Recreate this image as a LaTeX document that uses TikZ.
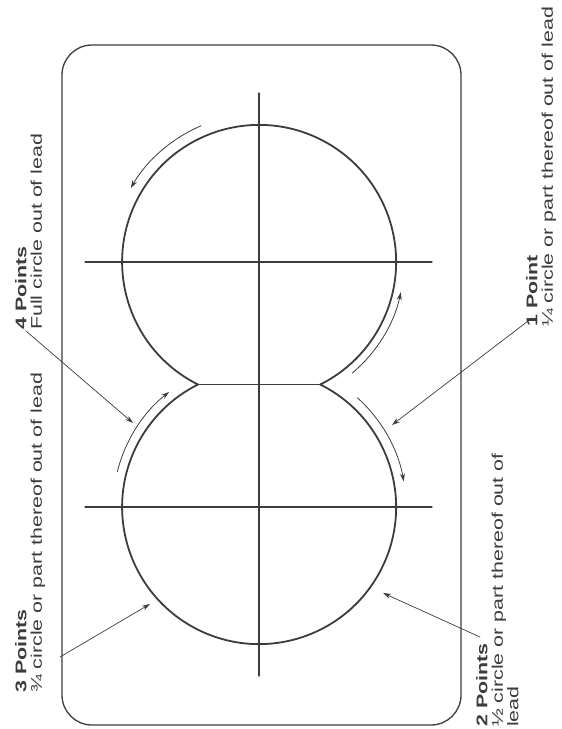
\documentclass[tikz,border=0pt]{standalone}
\usepackage{fontspec}
\newfontfamily\lblfont[FakeStretch=1.38]{Liberation Sans}
\usetikzlibrary{arrows.meta}
\definecolor{ink}{RGB}{60,60,60}

\begin{document}
\begin{tikzpicture}[x=1pt, y=-1pt, line cap=round,
  outline/.style={draw=ink, line width=1.8pt},
  axis/.style={draw=ink, line width=1.3pt},
  neckline/.style={draw=ink, line width=0.7pt},
  motion/.style={draw=ink, line width=0.8pt, -{Stealth[length=8pt,width=5pt]}},
  leader/.style={draw=ink, line width=0.7pt, -{Stealth[length=8pt,width=5pt]}},
  lbl/.style={rotate=90, anchor=north west, align=left, inner sep=0pt, text=ink,
    font=\lblfont\fontsize{15.5}{15.5}\selectfont}
]
\useasboundingbox (0,0) rectangle (562,729);

%% frame
\draw[axis, rounded corners=30pt] (62,45) rectangle (461,725);

%% centres and cusps
\coordinate (top) at (259,262);
\coordinate (bot) at (259,507);
\coordinate (lcusp) at (198,384.5);
\coordinate (rcusp) at (320,384.5);

%% axes
\draw[axis] (259,93) -- (259,676);
\draw[axis] (85,262) -- (432,262);
\draw[axis] (85,507) -- (432,507);
\draw[neckline] (lcusp) -- (rcusp);

%% figure of eight
\draw[outline] (lcusp) arc[start angle=116.5, end angle=423.5, radius=137]
  arc[start angle=-63.5, end angle=243.5, radius=137] -- cycle;

%% direction arrows
\draw[motion] (top) ++(247:148) arc[start angle=247, end angle=210, radius=148];
\draw[motion] (top) ++(50:145) arc[start angle=50, end angle=12, radius=145];
\draw[motion] (bot) ++(-48:147) arc[start angle=-48, end angle=-10, radius=147];
\draw[motion] (bot) ++(194:146) arc[start angle=194, end angle=232, radius=146];

%% labels
\node[lbl] (four) at (15,330) {\textbf{4 Points}\\Full circle out of lead};
\node[lbl] (three) at (15,693) {\textbf{3 Points}\\¾ circle or part thereof out of lead};
\node[lbl] (two) at (476,727) {\textbf{2 Points}\\½ circle or part thereof out of\\lead};
\node[lbl] (one) at (526,327) {\textbf{1 Point}\\¼ circle or part thereof out of lead};

%% leaders
\coordinate (p4) at (26,331);  \coordinate (t4) at (133,423);
\coordinate (p3) at (60,657);  \coordinate (t3) at (150,604);
\coordinate (p2) at (480,637); \coordinate (t2) at (383,593);
\coordinate (p1) at (532,318); \coordinate (t1) at (392,425);
\draw[leader] (p4) -- (t4);
\draw[leader] (p3) -- (t3);
\draw[leader] (p2) -- (t2);
\draw[leader] (p1) -- (t1);
\end{tikzpicture}
\end{document}
